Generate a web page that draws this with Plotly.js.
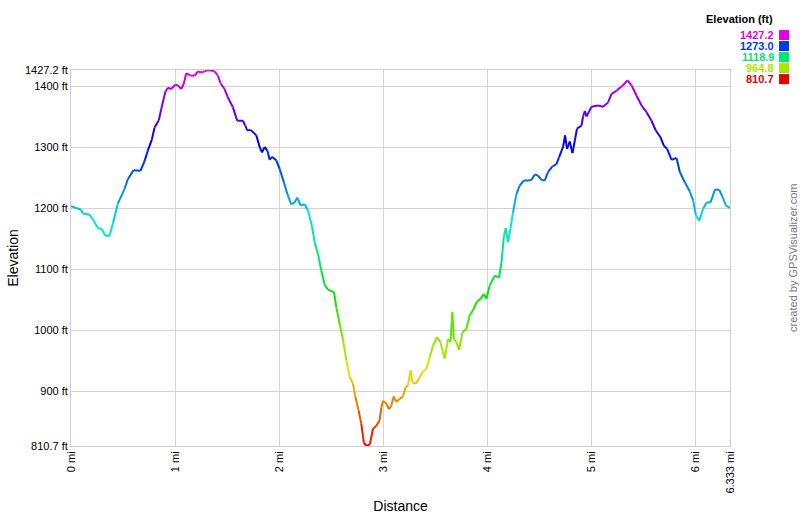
<!DOCTYPE html>
<html>
<head>
<meta charset="utf-8">
<script src="https://cdn.plot.ly/plotly-3.0.1.min.js"></script>
<style>
html,body{margin:0;padding:0;background:#fff;}
#chart{width:800px;height:517px;}
</style>
</head>
<body>
<div id="chart"></div>
<script>
// ---- Data ----
const distance_mi = [
  0, 0.050, 0.098, 0.113, 0.178, 0.219, 0.258, 0.296, 0.329, 0.370,
  0.402, 0.450, 0.514, 0.546, 0.601, 0.668, 0.707, 0.738, 0.777, 0.803,
  0.844, 0.867, 0.906, 0.931, 0.963, 1.002, 1.027, 1.060, 1.082, 1.108,
  1.149, 1.188, 1.219, 1.252, 1.284, 1.315, 1.380, 1.412, 1.438, 1.476,
  1.508, 1.556, 1.598, 1.652, 1.675, 1.694, 1.726, 1.781, 1.813, 1.835,
  1.861, 1.887, 1.909, 1.931, 1.973, 2.005, 2.046, 2.079, 2.117, 2.149,
  2.175, 2.207, 2.245, 2.277, 2.315, 2.341, 2.373, 2.406, 2.438, 2.469,
  2.527, 2.550, 2.582, 2.613, 2.646, 2.678, 2.710, 2.733, 2.764, 2.790,
  2.815, 2.848, 2.873, 2.902, 2.935, 2.966, 2.983, 2.998, 3.031, 3.056,
  3.079, 3.101, 3.127, 3.159, 3.190, 3.216, 3.238, 3.264, 3.281, 3.313,
  3.344, 3.377, 3.415, 3.447, 3.479, 3.517, 3.550, 3.591, 3.623, 3.646,
  3.665, 3.678, 3.704, 3.729, 3.762, 3.800, 3.832, 3.863, 3.896, 3.935,
  3.966, 3.992, 4.024, 4.072, 4.113, 4.137, 4.159, 4.178, 4.200, 4.223,
  4.248, 4.281, 4.313, 4.351, 4.392, 4.425, 4.457, 4.488, 4.521, 4.553,
  4.585, 4.627, 4.665, 4.690, 4.729, 4.748, 4.767, 4.793, 4.819, 4.841,
  4.863, 4.906, 4.921, 4.938, 4.954, 5.002, 5.065, 5.113, 5.162, 5.194,
  5.242, 5.290, 5.348, 5.387, 5.435, 5.483, 5.531, 5.579, 5.620, 5.665,
  5.697, 5.729, 5.771, 5.819, 5.851, 5.899, 5.947, 5.979, 6.005, 6.037,
  6.075, 6.108, 6.146, 6.188, 6.229, 6.262, 6.293, 6.333
];
const elevation_ft = [
  1204, 1201, 1198, 1192, 1190, 1180, 1168, 1166, 1156, 1155,
  1175, 1208, 1232, 1248, 1263, 1262, 1278, 1295, 1313, 1333,
  1345, 1363, 1391, 1398, 1396, 1403, 1402, 1396, 1404, 1422,
  1418, 1418, 1425, 1423, 1425, 1427.2, 1425, 1418, 1405, 1396,
  1382, 1366, 1344, 1344, 1336, 1328, 1329, 1320, 1301, 1292,
  1301, 1295, 1280, 1285, 1279, 1265, 1243, 1224, 1207, 1210,
  1218, 1205, 1207, 1197, 1172, 1145, 1126, 1098, 1075, 1067,
  1063, 1038, 1011, 986, 951, 924, 913, 891, 869, 847,
  815, 810.7, 814, 839, 844, 853, 874, 885, 880, 871,
  877, 892, 883, 888, 892, 907, 910, 935, 915, 913,
  921, 932, 937, 956, 975, 989, 981, 954, 986, 981,
  1030, 986, 981, 968, 997, 1003, 1025, 1033, 1046, 1052,
  1060, 1052, 1074, 1090, 1087, 1112, 1153, 1168, 1145, 1167,
  1194, 1224, 1238, 1246, 1246, 1247, 1256, 1254, 1247, 1246,
  1260, 1269, 1273, 1284, 1301, 1320, 1298, 1310, 1291, 1311,
  1331, 1336, 1351, 1360, 1351, 1367, 1369, 1367, 1374, 1388,
  1393, 1400, 1410, 1402, 1385, 1369, 1358, 1344, 1328, 1317,
  1303, 1298, 1280, 1283, 1260, 1243, 1228, 1213, 1189, 1180,
  1200, 1210, 1210, 1231, 1231, 1219, 1205, 1201
];
const elevMin = 810.7;
const elevMax = 1427.2;
const legendValues = [1427.2, 1273.0, 1118.9, 964.8, 810.7];
const yTickVals = [810.7, 900, 1000, 1100, 1200, 1300, 1400, 1427.2];
const yTickText = ["810.7 ft", "900 ft", "1000 ft", "1100 ft", "1200 ft", "1300 ft", "1400 ft", "1427.2 ft"];
const xTickVals = [0, 1, 2, 3, 4, 5, 6, 6.333];
const xTickText = ["0 mi", "1 mi", "2 mi", "3 mi", "4 mi", "5 mi", "6 mi", "6.333 mi"];

// ---- colour by elevation: red (low) -> magenta (high) ----
function elevColor(v) {
  const t = Math.max(0, Math.min(1, (v - elevMin) / (elevMax - elevMin)));
  const hue = 300 * t;
  return "hsl(" + hue.toFixed(1) + ",100%,45%)";
}

const traces = [];
for (let i = 0; i < distance_mi.length - 1; i++) {
  const avg = (elevation_ft[i] + elevation_ft[i + 1]) / 2;
  traces.push({
    type: "scatter",
    mode: "lines",
    x: [distance_mi[i], distance_mi[i + 1]],
    y: [elevation_ft[i], elevation_ft[i + 1]],
    line: { color: elevColor(avg), width: 2 },
    hoverinfo: "skip",
    showlegend: false
  });
}

// ---- legend (top right), built from legendValues ----
const annotations = [{
  xref: "paper", yref: "paper", x: 1.0685, y: 1.136, xanchor: "right", yanchor: "middle",
  text: "<b>Elevation (ft)</b>", showarrow: false,
  font: { family: "Liberation Sans, Arial, sans-serif", size: 11, color: "#000" }
}];
const shapes = [];
legendValues.forEach((v, k) => {
  const yc = 1.093 - k * 0.0293;
  annotations.push({
    xref: "paper", yref: "paper", x: 1.0695, y: yc, xanchor: "right", yanchor: "middle",
    text: "<b>" + v.toFixed(1) + "</b>", showarrow: false,
    font: { family: "Liberation Sans, Arial, sans-serif", size: 11, color: elevColor(v) }
  });
  shapes.push({
    type: "rect", xref: "paper", yref: "paper",
    x0: 1.0744, x1: 1.0895, y0: yc - 0.0133, y1: yc + 0.0133,
    fillcolor: elevColor(v), line: { width: 0 }
  });
});
annotations.push({
  xref: "paper", yref: "paper", x: 1.0955, y: 0.5, xanchor: "center", yanchor: "middle",
  text: "created by GPSVisualizer.com", textangle: -90, showarrow: false,
  font: { family: "Liberation Sans, Arial, sans-serif", size: 11, color: "#777" }
});

const layout = {
  width: 800, height: 517,
  margin: { l: 71, r: 70, t: 70, b: 71, pad: 0 },
  paper_bgcolor: "#fff", plot_bgcolor: "#fff",
  font: { family: "Liberation Sans, Arial, sans-serif", size: 11, color: "#000" },
  xaxis: {
    range: [0, 6.333], tickmode: "array", tickvals: xTickVals, ticktext: xTickText,
    tickangle: -90, showgrid: true, gridcolor: "#d4d4d4", gridwidth: 1,
    showline: true, linecolor: "#cfcfcf", linewidth: 1, mirror: true,
    zeroline: false, ticks: "", ticklen: 0,
    title: { text: "Distance", font: { size: 14 }, standoff: 8 },
    fixedrange: true
  },
  yaxis: {
    range: [elevMin, elevMax], tickmode: "array", tickvals: yTickVals, ticktext: yTickText,
    showgrid: true, gridcolor: "#d4d4d4", gridwidth: 1,
    showline: true, linecolor: "#cfcfcf", linewidth: 1, mirror: true,
    zeroline: false, ticks: "", ticklen: 0,
    title: { text: "Elevation", font: { size: 14 }, standoff: 3 },
    fixedrange: true
  },
  annotations: annotations,
  shapes: shapes,
  showlegend: false
};

Plotly.newPlot("chart", traces, layout, { displayModeBar: false, staticPlot: true });
</script>
</body>
</html>
